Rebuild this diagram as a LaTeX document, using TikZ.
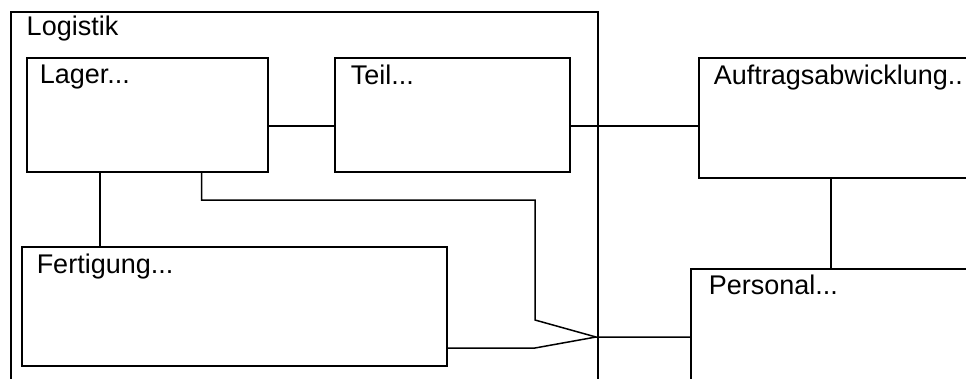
\documentclass[tikz,border=0pt]{standalone}
\usepackage{fontspec}
\setmainfont{Liberation Sans}
\usetikzlibrary{positioning, calc}

\begin{document}
\begin{tikzpicture}[x=1pt, y=-1pt, line width=1.5pt,
    every node/.style={font=\fontsize{27}{31}\selectfont},
    box/.style={draw, rectangle, anchor=north west, inner sep=0pt},
    lbl/.style={anchor=north west, inner sep=0pt, xshift=15pt, yshift=-7pt}]
    \useasboundingbox (0,0) rectangle (966,378);
    \clip (0,0) rectangle (966,378);
    % Components
    \node[box, minimum width=587pt, minimum height=400pt, label={[lbl, xshift=1pt, yshift=3pt]north west:Logistik}] (logistik) at (10,11) {};
    \node[box, minimum width=241pt, minimum height=114pt, label={[lbl, xshift=-2pt]north west:Lager...}] (lager) at (26,57) {};
    \node[box, right=65.5pt of lager, minimum width=235pt, minimum height=114pt, label={[lbl, xshift=1pt]north west:Teil...}] (teil) {};
    \node[box, minimum width=300pt, minimum height=120pt, label={[lbl, xshift=0pt]north west:Auftragsabwicklung..}] (auftrag) at (698,57) {};
    \node[box, minimum width=425pt, minimum height=119pt, label={[lbl]north west:Fertigung...}] (fertigung) at (21,246) {};
    \node[box, minimum width=300pt, minimum height=150pt, label={[lbl, xshift=3pt, yshift=1pt]north west:Personal...}] (personal) at (690,268) {};
    % Connectors
    \coordinate (row) at (0,126);
    \coordinate (lf) at (100,0);
    \coordinate (ap) at (831,0);
    \coordinate (knot) at (596,337);
    \coordinate (fp) at (0,348);
    \draw (lager.east |- row) -- (teil.west |- row);
    \draw (teil.east |- row) -- (auftrag.west |- row);
    \draw (lager.south -| lf) -- (fertigung.north -| lf);
    \draw (auftrag.south -| ap) -- (personal.north -| ap);
    \draw ($(lager.south east)+(-67,0)$) |- (535,200) -- (535,320) -- (knot) -- (knot -| personal.west);
    \draw (fertigung.east |- fp) -- (535,348) -- (knot);
\end{tikzpicture}
\end{document}
